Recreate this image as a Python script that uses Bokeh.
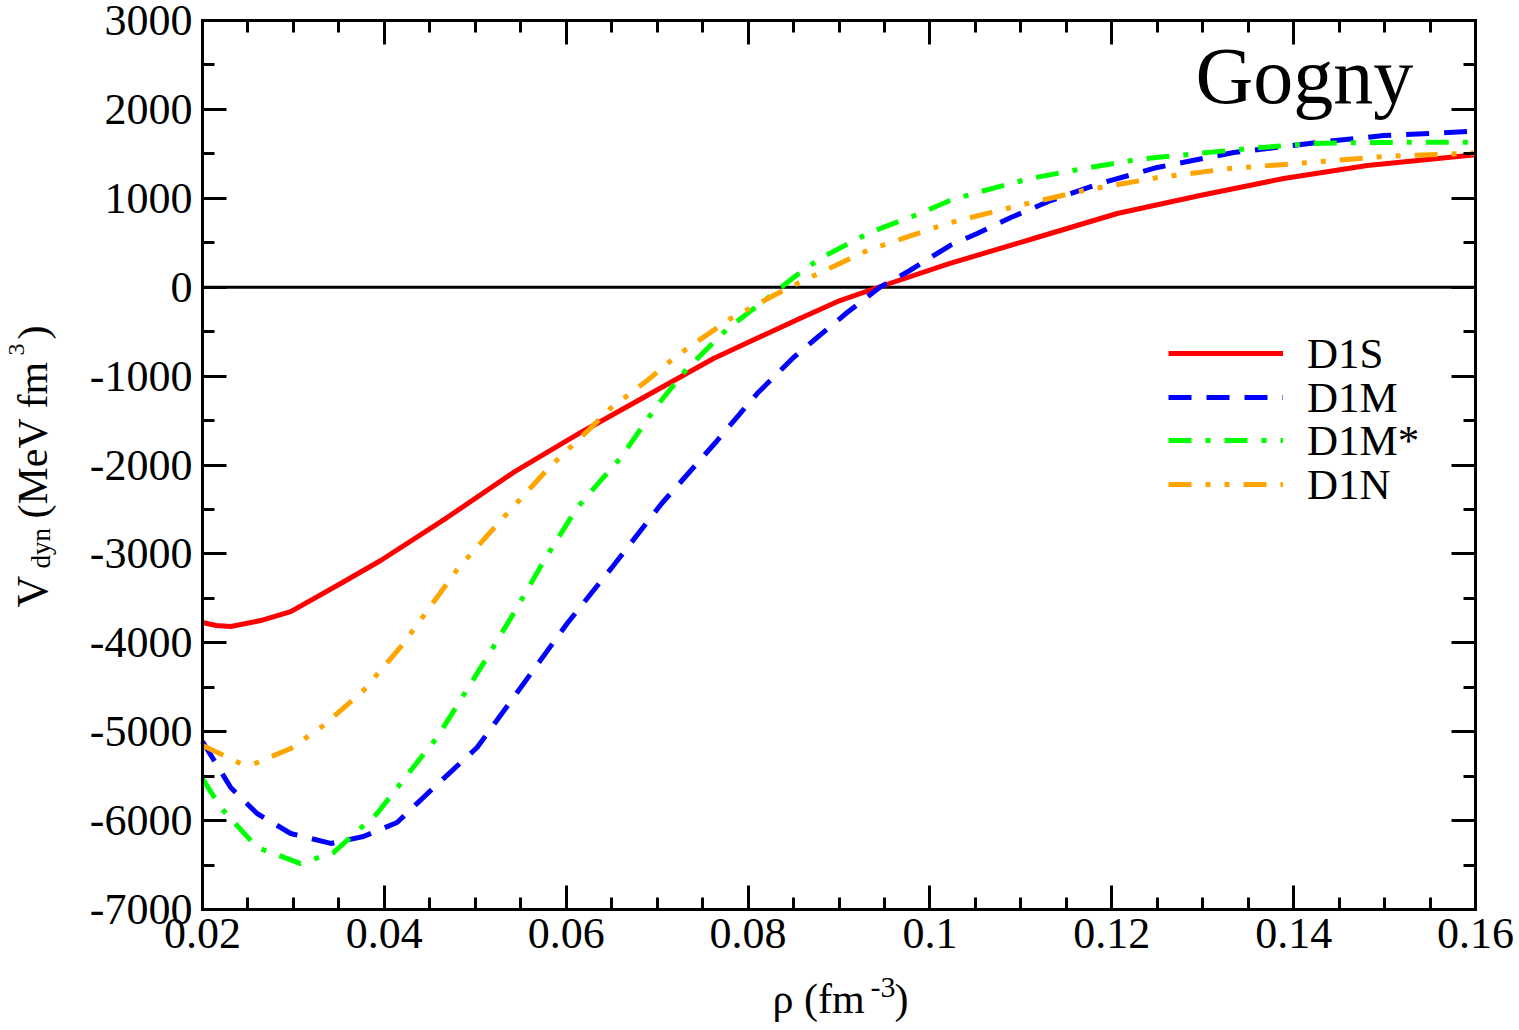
import math
from bokeh.plotting import figure
from bokeh.models import Label, Legend, LegendItem, FixedTicker, LinearAxis, Range1d
from bokeh.embed import file_html
from bokeh.resources import INLINE

# ---------------- data ----------------
d1s_x = [0.0200, 0.0215, 0.0231, 0.0264, 0.0297, 0.0352, 0.0396, 0.0469, 0.0542, 0.0616,
         0.0689, 0.0762, 0.0857, 0.0901, 0.0949, 0.1022, 0.1114, 0.1206, 0.1297, 0.1389,
         0.1481, 0.1600]
d1s_y = [-3772, -3805, -3817, -3750, -3650, -3333, -3074, -2591, -2084, -1634,
         -1218, -802, -352, -150, 19, 267, 548, 829, 1032, 1223,
         1369, 1490]

d1m_x = [0.0200, 0.0231, 0.0260, 0.0297, 0.0341, 0.0377, 0.0414, 0.0451, 0.0502, 0.0550,
         0.0601, 0.0652, 0.0705, 0.0764, 0.0810, 0.0850, 0.0872, 0.0909, 0.0945, 0.0978,
         0.1022, 0.1052, 0.1089, 0.1133, 0.1187, 0.1250, 0.1334, 0.1426, 0.1499, 0.1600]
d1m_y = [-5110, -5628, -5920, -6145, -6257, -6179, -6021, -5661, -5178, -4503,
         -3783, -3130, -2433, -1750, -1196, -791, -600, -285, 0, 188,
         469, 604, 784, 975, 1166, 1347, 1515, 1628, 1706, 1755]

d1ms_x = [0.0200, 0.0220, 0.0260, 0.0308, 0.0344, 0.0392, 0.0429, 0.0458, 0.0513, 0.0546,
          0.0575, 0.0612, 0.0660, 0.0700, 0.0733, 0.0777, 0.0828, 0.0850, 0.0879, 0.0934,
          0.0989, 0.1022, 0.1048, 0.1110, 0.1169, 0.1228, 0.1294, 0.1352, 0.1418, 0.1481,
          0.1600]
d1ms_y = [-5527, -5853, -6303, -6483, -6359, -5920, -5436, -5065, -4165, -3603,
          -3085, -2480, -1916, -1330, -915, -470, -71, 109, 323, 615,
          829, 975, 1054, 1223, 1335, 1436, 1504, 1560, 1616, 1628,
          1632]

d1n_x = [0.0200, 0.0242, 0.0256, 0.0297, 0.0333, 0.0377, 0.0421, 0.0469, 0.0481, 0.0524,
         0.0582, 0.0624, 0.0649, 0.0689, 0.0722, 0.0780, 0.0828, 0.0854, 0.0931, 0.1019,
         0.1089, 0.1169, 0.1251, 0.1330, 0.1418, 0.1499, 0.1600]
d1n_y = [-5155, -5358, -5365, -5189, -4930, -4537, -4008, -3333, -3164, -2670,
         -2020, -1612, -1360, -1050, -768, -358, -93, 40, 413, 717,
         897, 1088, 1234, 1335, 1403, 1470, 1510]

series_names = ["D1S", "D1M", "D1M*", "D1N"]

x_ticks = [0.02, 0.04, 0.06, 0.08, 0.10, 0.12, 0.14, 0.16]
x_tick_labels = ["0.02", "0.04", "0.06", "0.08", "0.1", "0.12", "0.14", "0.16"]
x_minor = [round(0.02 + 0.005 * i, 3) for i in range(29)]
y_ticks = [-7000, -6000, -5000, -4000, -3000, -2000, -1000, 0, 1000, 2000, 3000]
y_tick_labels = ["-7000", "-6000", "-5000", "-4000", "-3000", "-2000", "-1000", "0",
                 "1000", "2000", "3000"]
y_minor = [-7000 + 500 * i for i in range(21)]

X0, X1 = x_ticks[0], x_ticks[-1]
Y0, Y1 = y_ticks[0], y_ticks[-1]

# ---------------- layout (pixels) ----------------
W, H = 1519, 1030
L, R, T, B = 202, 1475, 20, 909          # plot box edges in the page
sx_per = (X1 - X0) / (R - L)
sy_per = (Y1 - Y0) / (B - T)
x_range = Range1d(X0 - L * sx_per, X1 + (W - R) * sx_per)
y_range = Range1d(Y0 - (H - B) * sy_per, Y1 + T * sy_per)

FONT = "Liberation Serif"
p = figure(width=W, height=H, output_backend="svg", toolbar_location=None,
           x_range=x_range, y_range=y_range,
           min_border=0, min_border_left=0, min_border_right=0,
           min_border_top=0, min_border_bottom=0,
           x_axis_location=None, y_axis_location=None)
p.background_fill_color = "white"
p.border_fill_color = "white"
p.xgrid.visible = False
p.ygrid.visible = False
p.outline_line_color = None


def make_axis(ticks, minor, labels, show_labels, fixed, bounds):
    ax = LinearAxis(ticker=FixedTicker(ticks=ticks, minor_ticks=minor),
                    fixed_location=fixed, bounds=bounds)
    ax.axis_line_width = 3
    ax.axis_line_cap = "square"
    ax.major_tick_line_width = 3
    ax.minor_tick_line_width = 3
    ax.major_tick_in = 24
    ax.major_tick_out = 0
    ax.minor_tick_in = 12
    ax.minor_tick_out = 0
    if show_labels:
        ax.major_label_overrides = {t: l for t, l in zip(ticks, labels)}
        ax.major_label_text_font = FONT
        ax.major_label_text_font_size = "44px"
        ax.major_label_text_color = "black"
    else:
        ax.major_label_overrides = {t: "" for t in ticks}
        ax.major_label_text_font_size = "0px"
        ax.major_label_standoff = 0
    return ax


xb = make_axis(x_ticks, x_minor, x_tick_labels, True, Y0, (X0, X1))
xb.major_label_standoff = 9
yl = make_axis(y_ticks, y_minor, y_tick_labels, True, X0, (Y0, Y1))
yl.major_label_standoff = 10
p.add_layout(xb, "below")
p.add_layout(yl, "left")
p.add_layout(make_axis(x_ticks, x_minor, x_tick_labels, False, Y1, (X0, X1)), "above")
p.add_layout(make_axis(y_ticks, y_minor, y_tick_labels, False, X1, (Y0, Y1)), "right")

# zero reference line across the plot box
p.line([X0, X1], [0, 0], line_color="black", line_width=3)

LW = 5
r1 = p.line(d1s_x, d1s_y, line_color="#ff0000", line_width=LW, line_join="round")
r2 = p.line(d1m_x, d1m_y, line_color="#0000ff", line_width=LW, line_dash="23 15")
r3 = p.line(d1ms_x, d1ms_y, line_color="#00ff00", line_width=LW, line_dash="23 14 5 14")
r4 = p.line(d1n_x, d1n_y, line_color="#ffa500", line_width=LW, line_dash="23 14 5 14 5 14")

# legend: one legend per row for exact placement (location = bottom-left, screen units)
row_center = [354, 398, 441, 485]
LEG_FS = 43
ROW_H = 1.107 * LEG_FS
for name, r, c in zip(series_names, [r1, r2, r3, r4], row_center):
    lg = Legend(items=[LegendItem(label=name, renderers=[r])],
                location=(1168, H - (c + ROW_H / 2)),
                padding=0, margin=0, spacing=0, glyph_width=115, glyph_height=30,
                label_standoff=24, label_text_font=FONT,
                label_text_font_size=f"{LEG_FS}px", label_text_color="black",
                border_line_alpha=0, background_fill_alpha=0)
    p.add_layout(lg)

ASC = 0.3375  # baseline offset from the text box centre, in em


def lab(px, py_base, txt, size, rotated=False):
    """Place text whose baseline starts at page pixel (px, py_base)."""
    if rotated:
        sx, sy = px - ASC * size, H - py_base
        ang = math.pi / 2
    else:
        sx, sy = px, H - (py_base - ASC * size)
        ang = 0.0
    p.add_layout(Label(x=sx, y=sy, x_units="screen", y_units="screen", text=txt,
                       text_font=FONT, text_font_size=f"{size}px", text_color="black",
                       text_baseline="middle", text_align="left", angle=ang))


# title text inside plot
lab(1195, 102, "Gogny", 80)

# x axis label
lab(772, 1013, "ρ (fm", 42)
lab(870, 997, "-3", 30)
lab(894, 1013, ")", 42)

# y axis label (rotated; px = baseline x, py = start of the text)
lab(47, 607, "V", 44, True)
lab(50, 568, "dyn", 27, True)
lab(47, 518, "(MeV fm", 42, True)
lab(24, 355, "3", 24, True)
lab(47, 339, ")", 42, True)

open("out.html", "w").write(file_html(p, INLINE))
